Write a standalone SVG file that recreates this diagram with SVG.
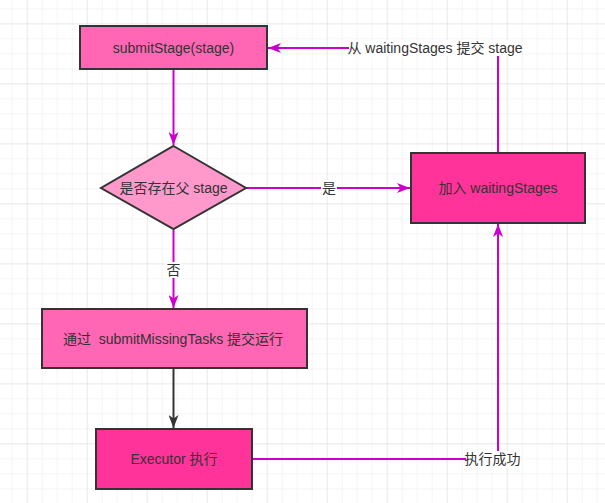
<svg xmlns="http://www.w3.org/2000/svg" width="605" height="503" viewBox="0 0 605 503">
<defs>
<pattern id="minor" x="11.67" y="8.33" width="15" height="15" patternUnits="userSpaceOnUse">
<path d="M0,0 H15 M0,0 V15" fill="none" stroke="#ececec" stroke-width="1"/>
</pattern>
<pattern id="major" x="26.67" y="23.33" width="60" height="60" patternUnits="userSpaceOnUse">
<path d="M0,0 H60 M0,0 V60" fill="none" stroke="#e0e0e0" stroke-width="1"/>
</pattern>
<marker id="arrM" markerWidth="14" markerHeight="10" refX="13" refY="5" orient="auto" markerUnits="userSpaceOnUse">
<path d="M0,0 L13,5 L0,10 L3.5,5 z" fill="#CC00CC"/>
</marker>
<marker id="arrD" markerWidth="14" markerHeight="10" refX="13" refY="5" orient="auto" markerUnits="userSpaceOnUse">
<path d="M0,0 L13,5 L0,10 L3.5,5 z" fill="#333333"/>
</marker>
</defs>
<style>
.node{stroke:#333333;stroke-width:2}
.lbl{font-family:"Liberation Sans","Noto Sans CJK SC",sans-serif;font-size:14px;fill:#333333;text-anchor:middle;dominant-baseline:central}
.edge{fill:none;stroke:#CC00CC;stroke-width:2}
.edgeD{fill:none;stroke:#333333;stroke-width:2}
.lblbg{fill:#ffffff}
</style>
<rect width="605" height="503" fill="#ffffff"/>
<rect width="605" height="503" fill="url(#minor)"/>
<rect width="605" height="503" fill="url(#major)"/>

<g id="connectors">
<path class="edge" d="M173.5,70 V145" marker-end="url(#arrM)"/>
<path class="edge" d="M246,188 H410" marker-end="url(#arrM)"/>
<path class="edge" d="M173.5,230 V308" marker-end="url(#arrM)"/>
<path class="edgeD" d="M173.5,369 V428" marker-end="url(#arrD)"/>
<path class="edge" d="M253,459 H498 V224" marker-end="url(#arrM)"/>
<path class="edge" d="M498,152 V48 H268" marker-end="url(#arrM)"/>
<rect class="lblbg" x="321" y="180" width="16" height="16"/>
<text class="lbl" x="329" y="188">是</text>
<rect class="lblbg" x="165" y="262" width="16" height="16"/>
<text class="lbl" x="173.5" y="270">否</text>
<rect class="lblbg" x="349" y="40" width="172" height="16"/>
<text class="lbl" x="435" y="48">从 waitingStages 提交 stage</text>
<rect class="lblbg" x="466" y="451" width="53" height="16"/>
<text class="lbl" x="492.5" y="459">执行成功</text>
</g>

<g id="submitStage">
<rect class="node" x="80" y="26" width="187" height="43" fill="#FF66B3"/>
<text class="lbl" x="173.5" y="47.5">submitStage(stage)</text>
</g>

<g id="hasParent">
<polygon class="node" points="173.5,146 246,188 173.5,229 101,188" fill="#FF99CC"/>
<text class="lbl" x="173.5" y="188">是否存在父 stage</text>
</g>

<g id="waitingStages">
<rect class="node" x="411" y="153" width="174" height="70" fill="#FF3399"/>
<text class="lbl" x="498" y="188">加入 waitingStages</text>
</g>

<g id="submitMissingTasks">
<rect class="node" x="42" y="309" width="265" height="59" fill="#FF66B3"/>
<text class="lbl" x="173" y="339" xml:space="preserve">通过  submitMissingTasks 提交运行</text>
</g>

<g id="executor">
<rect class="node" x="96" y="429" width="156" height="60" fill="#FF3399"/>
<text class="lbl" x="174" y="459">Executor 执行</text>
</g>
</svg>
